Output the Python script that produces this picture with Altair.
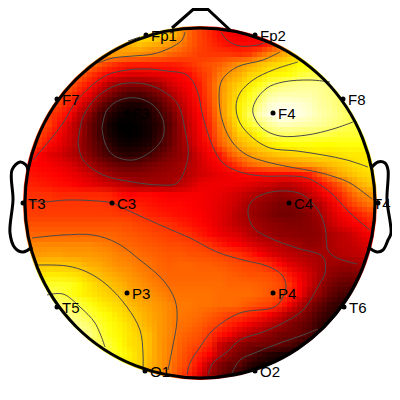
import altair as alt
import pandas as pd

# hot-colormap value (0 black, 37 red, 75 yellow, 100 white) per 10 px cell, row centre y, columns x=20..380
x_cols = list(range(20, 381, 10))
row_025 = [70]*11 + [70,72,72,70,66,60,52,47,43,39,36,34,35,38,42] + [50]*11
row_035 = [70]*11 + [70,72,72,70,66,60,52,47,43,39,36,34,35,38,42] + [50]*11
row_045 = [62]*9 + [62,62,64,66,64,62,60,56,51,47,44,41,39,38,38,38,43,50,56,60] + [60]*8
row_055 = [60]*9 + [60,60,59,58,56,55,52,50,48,46,45,45,45,44,46,52,57,61,65,68,70] + [70]*7
row_065 = [58]*6 + [58,55,50,46,43,41,41,41,41,41,42,44,47,49,51,55,59,62,65,68,70,72,75,76] + [76]*7
row_075 = [52]*6 + [52,46,41,37,34,32,32,33,34,35,37,39,44,48,55,60,63,68,70,73,74,76,80,82,82] + [82]*6
row_085 = [51]*5 + [51,45,40,33,26,22,20,20,21,24,30,34,37,41,49,58,64,68,72,77,83,86,88,89,89,89,88] + [88]*5
row_095 = [48]*4 + [48,46,40,34,25,19,14,11,11,14,18,24,30,35,40,48,58,65,71,77,84,90,92,92,92,92,90,88,86] + [86]*4
row_105 = [50]*3 + [50,46,41,33,26,17,11,6,4,4,7,12,19,26,33,39,47,58,66,73,80,88,95,97,97,96,94,91,89,86,84] + [84]*3
row_115 = [48]*2 + [48,45,42,37,27,20,11,6,2,1,2,4,9,15,23,31,37,45,57,66,73,84,92,97,100,99,97,95,92,90,87,84] + [84]*3
row_125 = [48]*2 + [48,46,39,31,24,16,10,3,0,0,1,3,7,13,21,29,36,43,55,63,72,79,85,90,93,93,92,91,90,88,86,83,81] + [81]*2
row_135 = [50] + [50,47,42,36,30,24,16,10,4,1,0,1,3,8,14,21,29,35,42,53,60,68,70,76,83,85,85,84,84,83,82,80,80,80] + [80]*2
row_145 = [48] + [48,44,38,34,29,23,17,12,7,3,2,3,5,10,15,21,27,34,39,50,57,63,67,69,72,74,75,76,76,75,75,76,76,76,76] + [76]
row_155 = [48,43,37,33,31,27,24,19,14,10,7,6,7,10,14,18,21,25,31,36,40,50,56,60,63,65,67,68,69,70,71,70,71,72,72,72,72]
row_165 = [42,38,37,36,34,32,28,24,20,17,15,14,15,17,19,21,23,26,30,34,37,41,47,52,55,57,58,59,60,61,63,65,67,69,71,72,72]
row_175 = [42,40,39,38,37,35,33,30,26,23,21,20,20,21,22,23,24,27,30,32,34,35,37,38,38,39,39,39,40,42,50,57,62,65,68,70,70]
row_185 = [43,42,41,40,39,38,36,34,32,30,28,26,24,24,24,24,27,30,34,35,35,35,34,33,31,30,28,28,30,33,38,44,50,57,63,66,66]
row_195 = [45,44,44,44,43,43,43,43,43,42,39,37,38,38,37,36,36,36,36,35,34,32,30,27,25,23,21,22,24,28,33,38,43,50,56,59,60]
row_205 = [46,45,45,45,45,45,45,45,45,44,43,41,41,40,39,38,38,37,36,35,33,31,28,24,22,20,18,18,20,23,26,33,39,45,50,54,54]
row_215 = [46,46,46,46,46,46,46,46,46,46,45,45,44,42,41,40,39,38,37,35,33,30,26,23,21,19,17,17,18,20,24,30,35,38,42,46,46]
row_225 = [49,49,49,49,49,49,49,49,49,49,49,48,47,46,45,44,42,40,38,36,33,30,27,25,23,21,20,19,19,20,22,28,32,35,37,41,41]
row_235 = [52,52,52,52,52,52,52,52,52,52,51,50,49,48,47,46,45,44,41,38,35,33,31,27,24,23,21,21,20,20,21,25,27,29,33,36,36]
row_245 = [57,57,57,57,57,57,57,57,56,55,53,52,51,50,49,48,48,47,46,44,41,38,36,33,30,28,26,24,23,21,22,25,27,28,30,32,32]
row_255 = [61,60,60,61,61,60,60,60,59,58,56,55,53,52,51,50,50,49,49,48,47,46,44,41,37,33,30,28,26,25,24,24,26,27,28,29,29]
row_265 = [66,66,66,66,66,66,65,63,62,60,58,57,55,54,52,51,52,52,51,51,50,49,48,47,46,43,38,33,30,27,25,23,22,22,24,26,26]
row_275 = [70,70,71,72,72,71,70,67,65,63,61,59,57,55,53,52,52,52,52,52,52,51,50,49,49,48,46,40,35,30,25,21,19,18,19,20,20]
row_285 = [75,75,77,79,79,78,74,71,68,66,64,61,59,57,55,53,53,53,53,53,53,52,52,52,51,50,48,44,37,30,23,18,15,14,14,14,14]
row_295 = [78,80,82,84,82,78,74,72,70,68,66,63,61,59,57,55,54,54,54,54,53,53,53,53,52,50,48,43,36,26,21,15,11,9,9,9,9]
row_305 = [86,86,86,86,86,85,81,77,73,71,69,65,63,61,59,57,55,55,54,54,53,53,52,50,48,47,43,36,27,20,15,10,7,5,5,5,5]
row_315 = [88,88,88,88,89,88,85,81,77,74,71,68,65,62,60,57,55,54,53,51,49,47,46,43,40,36,31,25,21,16,11,7,5,4,4,4,4]
row_325 = [90,90,90,90,91,91,88,85,80,76,73,70,66,63,60,57,54,53,51,48,46,42,39,35,31,27,23,19,16,13,8,5,4,4,4,4,4]
row_335 = [91,91,91,91,93,93,91,88,82,77,74,71,68,65,60,57,53,51,49,45,40,36,30,26,23,20,17,16,15,11,7,4,4,4,4,4,4]
row_345 = [85]*7 + [85,84,80,75,71,69,65,60,56,52,49,47,42,30,25,21,18,17,16,15,12,8,5,4] + [4]*6
row_355 = [81]*9 + [81,77,73,69,65,60,56,51,47,42,37,27,21,17,14,9,6,4,3,3] + [3]*8
row_365 = [73]*10 + [73,72,69,64,60,55,50,46,38,27,19,15,14,7,4,2,2] + [2]*10
row_375 = [68]*13 + [63,60,55,48,42,33,23,17,12,6,3] + [3]*13
row_385 = [68]*13 + [63,60,55,48,42,33,23,17,12,6,3] + [3]*13

rows = {25: row_025, 35: row_035, 45: row_045, 55: row_055, 65: row_065, 75: row_075,
        85: row_085, 95: row_095, 105: row_105, 115: row_115, 125: row_125, 135: row_135,
        145: row_145, 155: row_155, 165: row_165, 175: row_175, 185: row_185, 195: row_195,
        205: row_205, 215: row_215, 225: row_225, 235: row_235, 245: row_245, 255: row_255,
        265: row_265, 275: row_275, 285: row_285, 295: row_295, 305: row_305, 315: row_315,
        325: row_325, 335: row_335, 345: row_345, 355: row_355, 365: row_365, 375: row_375,
        385: row_385}

# contours as (x, y)
c_fp1 = [(98,63),(113,58),(133,56),(153,54),(170,48),(182,40),(185,32)]
c_fp1b = [(128,41),(140,37)]
c_fp2 = [(221,32),(227,40),(240,46),(257,45),(267,42)]
c_f4a = [(330,82),(310,80),(283,82),(267,88),(255,102),(253,113),(262,128),(280,136),(307,135),(333,129),(353,122)]
c_f4b = [(298,62),(273,70),(253,80),(240,93),(236,107),(240,123),(253,138),(270,148),(297,151),(323,155),(347,160),(368,167)]
c_f4c = [(280,52),(263,60),(237,67),(222,80),(219,97),(223,123),(233,143),(247,155),(267,162),(290,167),(317,172),(335,177),(350,183),(372,199)]
c_outer = [(33,160),(50,140),(63,123),(75,103),(90,87),(107,75),(127,70),(147,69),(167,71),(187,75),(197,90),(203,117),(213,147),(223,163),(240,172),(263,176),(290,176),(307,178),(330,192),(350,213),(370,230)]
c_f3mid = [(78,143),(83,117),(97,97),(117,85),(137,83),(157,88),(177,103),(185,130),(188,157),(177,183),(160,185),(133,182),(103,175),(83,160),(78,143)]
c_f3in = [(102,128),(107,110),(120,100),(137,98),(153,105),(163,120),(163,137),(153,150),(133,160),(113,155),(105,143),(102,128)]
c_e = [(30,201),(43,202),(67,200),(97,201),(112,203),(127,210),(167,228),(190,238),(217,252),(243,260),(267,266),(282,275),(286,287),(280,302),(272,308),(240,313),(213,330),(200,347),(190,363),(187,375)]
c_g = [(357,264),(335,257),(328,250),(325,227),(318,210),(303,195),(287,191),(267,193),(253,200),(248,210),(253,227),(270,238),(297,248),(323,257),(325,273),(320,283),(303,310),(283,323),(263,332),(240,340),(227,352),(213,363),(208,375)]
c_h = [(232,373),(240,360),(257,352),(280,343),(303,335),(318,329)]
c_i = [(32,238),(63,235),(93,235),(117,243),(140,260),(163,280),(175,300),(177,320),(172,350),(168,370)]
c_j = [(38,265),(67,266),(87,272),(107,285),(127,307),(140,330),(143,353),(143,370)]
c_k = [(47,295),(63,294),(80,307),(95,323),(105,347)]
contours = [c_fp1, c_fp1b, c_fp2, c_f4a, c_f4b, c_f4c, c_outer, c_f3mid, c_f3in, c_e, c_g, c_h, c_i, c_j, c_k]

nose = [(172,28),(193,9.5),(208,9.5),(230,30)]
ear_l = [(28,170),(26,165),(20,162),(12,170),(13,200),(10,233),(15,248),(23,252),(32,247)]
ear_r = [(372,167),(378,162),(385,163),(388,170),(387,200),(391,233),(388,240),(383,250),(377,252),(368,247)]

names = ["Fp1","Fp2","F7","F3","F4","F8","T3","C3","C4","T4","T5","P3","P4","T6","O1","O2"]
ex = [146,255,57,127,273,343,23,112,289,378,57,127,273,344,145,255]
ey = [35,35,99,113,113,99,203,203,203,203,307,293,293,307,371,371]
lx = [146,255,57,127,273,343,23,112,289,368,57,127,273,344,145,255]

for k, r in rows.items():
    assert len(r) == len(x_cols), (k, len(r))

cells = pd.DataFrame([
    {"x0": x-5, "x1": x+5, "y0": y-5, "y1": y+5, "v": v}
    for y, r in rows.items() for x, v in zip(x_cols, r)
])

xs = alt.Scale(domain=[8, 392], nice=False, zero=False)
ys = alt.Scale(domain=[392, 8], nice=False, zero=False)
X = lambda f: alt.X(f, type="quantitative", scale=xs, axis=None)
Y = lambda f: alt.Y(f, type="quantitative", scale=ys, axis=None)
color = alt.Color("v:Q", legend=None,
                  scale=alt.Scale(type="linear", domain=[0, 37, 75, 100], interpolate="rgb",
                                  range=["#000000", "#ff0000", "#ffff00", "#ffffff"]))


def heat_layer(dx, dy, op):
    d = cells.copy()
    d[["x0", "x1"]] += dx
    d[["y0", "y1"]] += dy
    return alt.Chart(d).mark_rect(strokeWidth=0, opacity=op).encode(
        x=X("x0"), x2="x1", y=Y("y0"), y2="y1", color=color)


# the same cells drawn four times, half a cell apart, to soften the grid
heat = [heat_layer(-3, -3, 1), heat_layer(2, -3, 1/2), heat_layer(-3, 2, 1/3), heat_layer(2, 2, 1/4)]

centre = pd.DataFrame({"x": [200], "y": [203]})
mask = alt.Chart(centre).mark_arc(theta=0, theta2=6.2832, radius=177, radius2=320,
                                  fill="white").encode(x=X("x"), y=Y("y"))


def path(pts, name):
    return pd.DataFrame({"x": [p[0] for p in pts], "y": [p[1] for p in pts],
                         "o": range(len(pts)), "g": name})


cdf = pd.concat([path(c, i) for i, c in enumerate(contours)])
lines = alt.Chart(cdf).mark_line(color="#4a4a4a", strokeWidth=1, interpolate="catmull-rom").encode(
    x=X("x"), y=Y("y"), detail="g:N", order="o:Q")

odf = path(nose, "n")
nose_l = alt.Chart(odf).mark_line(color="black", strokeWidth=3).encode(
    x=X("x"), y=Y("y"), order="o:Q")
edf = pd.concat([path(ear_l, "l"), path(ear_r, "r")])
ears = alt.Chart(edf).mark_line(color="black", strokeWidth=3, interpolate="catmull-rom").encode(
    x=X("x"), y=Y("y"), detail="g:N", order="o:Q")

head = alt.Chart(centre).mark_point(shape="circle", size=122500, filled=False,
                                    color="black", strokeWidth=3, opacity=1).encode(x=X("x"), y=Y("y"))

edf2 = pd.DataFrame({"x": ex, "lx": lx, "y": ey, "n": names})
dots = alt.Chart(edf2).mark_point(shape="circle", filled=True, color="black", size=25, opacity=1).encode(
    x=X("x"), y=Y("y"))
labels = alt.Chart(edf2).mark_text(align="left", baseline="middle", dx=5, dy=1, font="Liberation Sans",
                                   fontSize=15, color="black").encode(
    x=X("lx"), y=Y("y"), text="n:N")

chart = alt.layer(*heat, mask, lines, ears, nose_l, head, dots, labels).properties(
    width=384, height=384, padding=0,
    autosize=alt.AutoSizeParams(type="none"),
).configure_view(stroke=None)

chart.save("out.html", embed_options={"renderer": "svg", "actions": False})
